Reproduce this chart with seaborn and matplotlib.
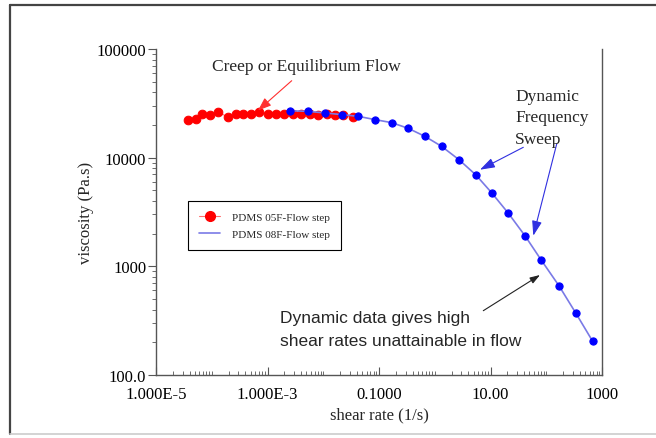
import numpy as np
import pandas as pd
import matplotlib
matplotlib.use("Agg")
import matplotlib.pyplot as plt
from matplotlib.lines import Line2D
from matplotlib.ticker import LogLocator, FixedLocator, FixedFormatter, NullFormatter
import seaborn as sns

# ---- data ----
red_label = "PDMS 05F-Flow step"
blue_label = "PDMS 08F-Flow step"

red_rate = [3.71e-5, 5.15e-5, 6.6e-5, 9.3e-5, 1.28e-4, 1.98e-4, 2.69e-4, 3.68e-4,
            5.06e-4, 7.05e-4, 1.01e-3, 1.42e-3, 2.0e-3, 2.9e-3, 3.99e-3, 5.78e-3,
            8.15e-3, 0.01153, 0.01626, 0.0229, 0.0346]
red_visc = [22300, 22700, 25200, 24800, 26500, 23500, 25200, 25200, 25200, 26200,
            25200, 25200, 25200, 25000, 25200, 25000, 24800, 25000, 24800, 24500, 23800]

blue_rate = [2.54e-3, 5.26e-3, 0.01074, 0.0214, 0.0426, 0.0847, 0.169, 0.336, 0.668,
             1.33, 2.72, 5.43, 10.5, 20.9, 41.6, 80.5, 169, 338, 681]
blue_visc = [27000, 26700, 25800, 24900, 24000, 22400, 21000, 18600, 15700, 12700,
             9580, 6960, 4750, 3080, 1910, 1150, 663, 372, 204]

x_ticks = [1e-5, 1e-3, 1e-1, 1e1, 1e3]
x_ticklabels = ["1.000E-5", "1.000E-3", "0.1000", "10.00", "1000"]
y_ticks = [1e2, 1e3, 1e4, 1e5]
y_ticklabels = ["100.0", "1000", "10000", "100000"]

red_df = pd.DataFrame({"rate": red_rate, "visc": red_visc})
blue_df = pd.DataFrame({"rate": blue_rate, "visc": blue_visc})

sns.set_style("ticks")
serif = ["Liberation Serif", "DejaVu Serif"]
sans = ["Liberation Sans", "DejaVu Sans"]
plt.rcParams["font.family"] = serif

fig = plt.figure(figsize=(6.56, 4.39), dpi=100)
fig.patch.set_facecolor("white")
W, H = 656, 439
ax = fig.add_axes([156 / W, 1 - 376 / H, (602 - 156) / W, (376 - 50) / H])

sns.lineplot(data=red_df, x="rate", y="visc", ax=ax, color="#ff7070", lw=0.8,
             marker="o", markersize=6.2, markerfacecolor="#ff0000",
             markeredgecolor="#ff0000", estimator=None, sort=False, zorder=3)
sns.lineplot(data=blue_df, x="rate", y="visc", ax=ax, color="#7a7ae6", lw=1.2,
             marker="o", markersize=5.2, markerfacecolor="#0000ff",
             markeredgecolor="#0000ff", estimator=None, sort=False, zorder=4)

ax.set_xscale("log")
ax.set_yscale("log")
ax.set_xlim(1e-5, 1e3)
ax.set_ylim(1e2, 1e5)

ax.spines["top"].set_visible(False)
for s in ["left", "bottom", "right"]:
    ax.spines[s].set_color("#555555")
    ax.spines[s].set_linewidth(1.0)

ax.xaxis.set_major_locator(FixedLocator(x_ticks))
ax.xaxis.set_major_formatter(FixedFormatter(x_ticklabels))
ax.xaxis.set_minor_locator(LogLocator(base=10, subs=np.arange(1, 10), numticks=20))
ax.xaxis.set_minor_formatter(NullFormatter())
ax.yaxis.set_major_locator(FixedLocator(y_ticks))
ax.yaxis.set_major_formatter(FixedFormatter(y_ticklabels))
ax.yaxis.set_minor_locator(LogLocator(base=10, subs=np.arange(2, 10), numticks=20))
ax.yaxis.set_minor_formatter(NullFormatter())

ax.tick_params(axis="x", which="major", direction="in", length=6, width=0.8,
               colors="#555555", labelcolor="black", labelsize=12, pad=8)
ax.tick_params(axis="x", which="minor", direction="in", length=3, width=0.6, colors="#555555")
ax.tick_params(axis="y", which="major", direction="out", length=6, width=0.8,
               colors="#555555", labelcolor="black", labelsize=12, pad=1)
ax.tick_params(axis="y", which="minor", direction="out", length=3, width=0.6, colors="#555555")
ax.tick_params(right=False, which="both")

ax.set_xlabel("shear rate (1/s)", fontsize=12)
ax.set_ylabel("viscosity (Pa.s)", fontsize=12)
ax.xaxis.set_label_coords(0.5, -0.095)
ax.yaxis.set_label_coords(-0.14, 0.5)

# legend
handles = [Line2D([], [], color="#ff7070", lw=0.8, marker="o", markersize=7,
                  markerfacecolor="#ff0000", markeredgecolor="#ff0000"),
           Line2D([], [], color="#7a7ae6", lw=1.2)]
leg = ax.legend(handles, [red_label, blue_label], loc="upper left",
                bbox_to_anchor=(188 / W, 1 - 202 / H), bbox_transform=fig.transFigure,
                borderaxespad=0, fontsize=8, frameon=True, fancybox=False, framealpha=1,
                edgecolor="black", handlelength=1.9, borderpad=1.0,
                labelspacing=0.65, handletextpad=1.1)
leg.get_frame().set_linewidth(0.8)
leg.set_zorder(5)

def fx(px):
    return px / W
def fy(py):
    return 1 - py / H

ax.annotate("", xy=(fx(258), fy(111.5)), xycoords=fig.transFigure,
            xytext=(fx(291.7), fy(81.7)), textcoords=fig.transFigure,
            arrowprops=dict(arrowstyle="-|>,head_length=0.8,head_width=0.3",
                            color="#ff3030", lw=0.8, shrinkA=0, shrinkB=0))
fig.text(fx(212), fy(67), "Creep or Equilibrium Flow", fontsize=12.5,
         ha="left", va="center", family=serif)

for i, line in enumerate(["Dynamic", "Frequency", "Sweep"]):
    fig.text(fx(515), fy(97 + 21.5 * i), line, fontsize=12.5,
             ha="left", va="center", family=serif)

ax.annotate("", xy=(fx(480), fy(170.7)), xycoords=fig.transFigure,
            xytext=(fx(523.3), fy(148.3)), textcoords=fig.transFigure,
            arrowprops=dict(arrowstyle="-|>,head_length=0.9,head_width=0.3",
                            color="#3030e0", lw=0.8, shrinkA=0, shrinkB=0))
ax.annotate("", xy=(fx(533.3), fy(236.7)), xycoords=fig.transFigure,
            xytext=(fx(556.7), fy(145)), textcoords=fig.transFigure,
            arrowprops=dict(arrowstyle="-|>,head_length=0.9,head_width=0.3",
                            color="#3030e0", lw=0.8, shrinkA=0, shrinkB=0))

ax.annotate("", xy=(fx(540), fy(276)), xycoords=fig.transFigure,
            xytext=(fx(483.3), fy(311.7)), textcoords=fig.transFigure,
            arrowprops=dict(arrowstyle="-|>,head_length=0.6,head_width=0.2",
                            color="#222222", lw=0.8, shrinkA=0, shrinkB=0))
fig.text(fx(280), fy(319), "Dynamic data gives high", fontsize=12.5,
         ha="left", va="center", family=sans)
fig.text(fx(280), fy(342), "shear rates unattainable in flow", fontsize=12.5,
         ha="left", va="center", family=sans)

# outer frame
fig.add_artist(Line2D([fx(10), fx(10)], [fy(6), fy(435)], color="#444444", lw=1.6,
                      transform=fig.transFigure))
fig.add_artist(Line2D([fx(10), 1.0], [fy(6), fy(6)], color="#444444", lw=1.6,
                      transform=fig.transFigure))
fig.add_artist(Line2D([fx(10), 1.0], [fy(435), fy(435)], color="#cccccc", lw=1.2,
                      transform=fig.transFigure))

fig.savefig("out.png", dpi=100)
